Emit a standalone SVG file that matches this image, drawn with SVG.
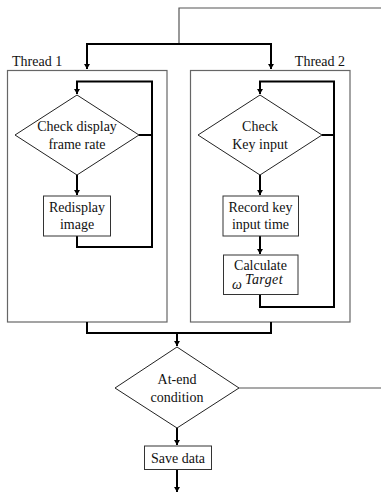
<svg xmlns="http://www.w3.org/2000/svg" width="381" height="498" viewBox="0 0 381 498">
  <style>
    .txt { font-family: "Liberation Serif", "Times New Roman", "DejaVu Serif", serif; font-size: 14px; fill: #111; }
    .mid { text-anchor: middle; }
    .frame { fill: none; stroke: #666; stroke-width: 1.2; }
    .box { fill: #fff; stroke: #333; stroke-width: 1; }
    .dia { fill: #fff; stroke: #222; stroke-width: 1; }
    .flow { fill: none; stroke: #000; stroke-width: 2; }
    .thin { fill: none; stroke: #555; stroke-width: 1.2; }
  </style>
  <defs>
    <marker id="arrow" markerUnits="userSpaceOnUse" markerWidth="7" markerHeight="7" refX="5" refY="3" orient="auto">
      <path d="M0,0 L5,3 L0,6 Z" fill="#000"/>
    </marker>
  </defs>

  <rect width="381" height="498" fill="#fff"/>

  <!-- thread containers -->
  <g id="thread1">
    <rect class="frame" x="7.5" y="70.5" width="159.5" height="251.5"/>
    <text class="txt" x="12" y="66">Thread 1</text>
  </g>
  <g id="thread2">
    <rect class="frame" x="190.5" y="70.5" width="159.5" height="251.5"/>
    <text class="txt" x="345" y="66" text-anchor="end">Thread 2</text>
  </g>

  <!-- connectors -->
  <g id="connectors">
    <path class="thin" d="M381,8 H179 V44"/>
    <path class="flow" d="M179,44 H87 V69" marker-end="url(#arrow)"/>
    <path class="flow" d="M179,44 H271 V69" marker-end="url(#arrow)"/>

    <path class="flow" d="M77,236 V247 H152 V81.5 H77 V94" marker-end="url(#arrow)"/>
    <path class="flow" d="M139,135 H152"/>
    <path class="flow" d="M77,175 V195" marker-end="url(#arrow)"/>

    <path class="flow" d="M260,295 V307 H334 V81.5 H260 V94" marker-end="url(#arrow)"/>
    <path class="flow" d="M322,135 H334"/>
    <path class="flow" d="M260,175 V195" marker-end="url(#arrow)"/>
    <path class="flow" d="M260,236 V254" marker-end="url(#arrow)"/>

    <path class="flow" d="M87,322 V333 H271 V322"/>
    <path class="flow" d="M177,333 V346" marker-end="url(#arrow)"/>
    <path class="flow" d="M177,428 V445" marker-end="url(#arrow)"/>
    <path class="flow" d="M177,469 V492" marker-end="url(#arrow)"/>
    <path class="thin" d="M239,388 H381"/>
  </g>

  <!-- thread 1 nodes -->
  <g id="check-frame-rate">
    <polygon class="dia" points="77,95 139,135 77,175 15,135"/>
    <text class="txt mid" x="77" y="131">Check display</text>
    <text class="txt mid" x="77" y="149">frame rate</text>
  </g>
  <g id="redisplay-image">
    <rect class="box" x="43.5" y="196" width="67" height="40"/>
    <text class="txt mid" x="77" y="212">Redisplay</text>
    <text class="txt mid" x="77" y="229">image</text>
  </g>

  <!-- thread 2 nodes -->
  <g id="check-key-input">
    <polygon class="dia" points="260,95 322,135 260,175 198,135"/>
    <text class="txt mid" x="260" y="131">Check</text>
    <text class="txt mid" x="260" y="149">Key input</text>
  </g>
  <g id="record-key-time">
    <rect class="box" x="223" y="196" width="75.5" height="40"/>
    <text class="txt mid" x="260.5" y="212">Record key</text>
    <text class="txt mid" x="260.5" y="229">input time</text>
  </g>
  <g id="calculate-target">
    <rect class="box" x="223.5" y="255" width="74.5" height="39.5"/>
    <text class="txt mid" x="260.5" y="269.5">Calculate</text>
    <text class="txt" x="232" y="289" font-size="17" font-style="italic">ω</text>
    <text class="txt" x="245" y="284" font-style="italic" letter-spacing="0.4">Target</text>
  </g>

  <!-- termination check -->
  <g id="at-end-condition">
    <polygon class="dia" points="177,347 239,388 177,428 115,388"/>
    <text class="txt mid" x="177" y="384">At-end</text>
    <text class="txt mid" x="177" y="401.5">condition</text>
  </g>
  <g id="save-data">
    <rect class="box" x="144.5" y="446" width="67" height="23.5"/>
    <text class="txt mid" x="178" y="462.5">Save data</text>
  </g>
</svg>
